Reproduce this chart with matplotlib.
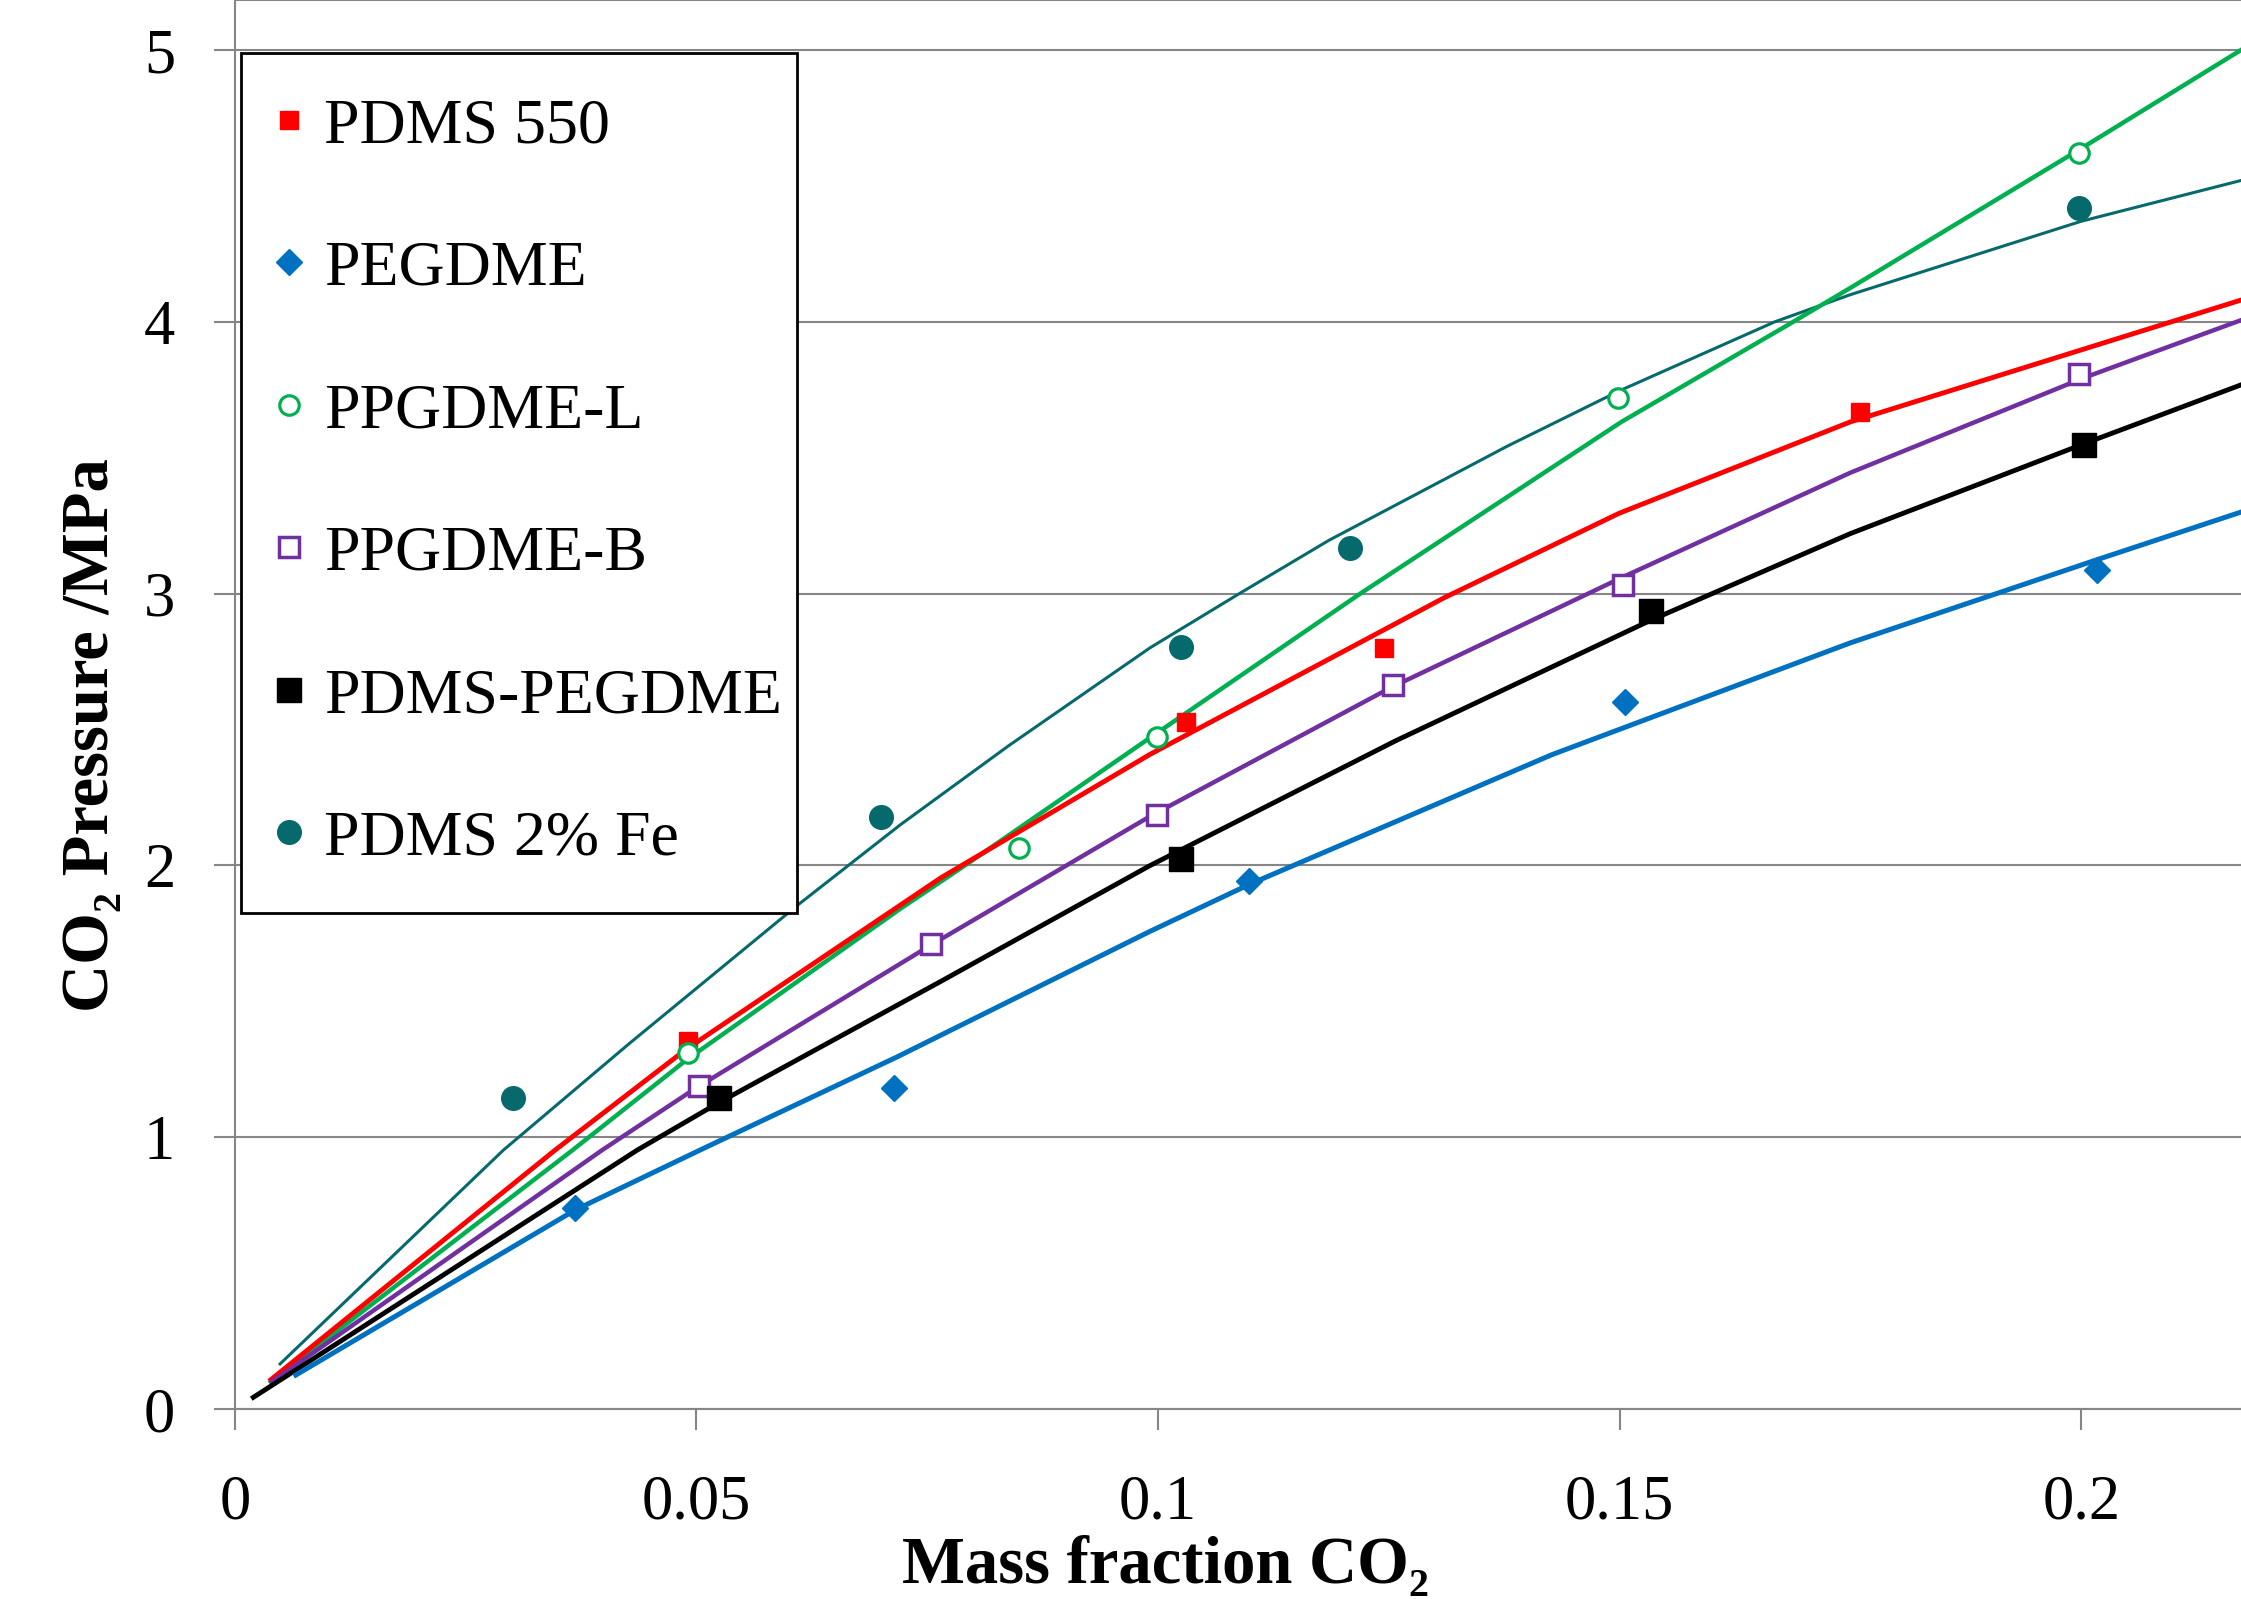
import matplotlib
import matplotlib.pyplot as plt

matplotlib.use("Agg")

plt.rcParams["font.family"] = ["Liberation Serif", "DejaVu Serif"]

# measured points (mass fraction CO2, pressure MPa)
pdms550_x = [0.0491, 0.1030, 0.1245, 0.1760]
pdms550_y = [1.355, 2.526, 2.800, 3.670]
pegdme_x = [0.0368, 0.0714, 0.1098, 0.1506, 0.2017]
pegdme_y = [0.740, 1.180, 1.943, 2.600, 3.088]
ppgdme_l_x = [0.0491, 0.0849, 0.0999, 0.1498, 0.1998]
ppgdme_l_y = [1.310, 2.064, 2.474, 3.720, 4.620]
ppgdme_b_x = [0.0503, 0.0754, 0.0999, 0.1254, 0.1504, 0.1998]
ppgdme_b_y = [1.187, 1.712, 2.185, 2.663, 3.030, 3.808]
pdms_peg_x = [0.0524, 0.1025, 0.1534, 0.2003]
pdms_peg_y = [1.145, 2.022, 2.936, 3.545]
pdms_fe_x = [0.0301, 0.0700, 0.1025, 0.1208, 0.1998]
pdms_fe_y = [1.145, 2.180, 2.805, 3.167, 4.420]

# fitted model curves
fit_pdms550_x = [0.0039, 0.0347, 0.0489, 0.0765, 0.0991, 0.1310, 0.1499, 0.1750, 0.2173]
fit_pdms550_y = [0.108, 0.953, 1.324, 1.955, 2.408, 2.985, 3.295, 3.632, 4.080]
fit_pegdme_x = [0.0066, 0.0369, 0.0504, 0.0717, 0.0991, 0.1100, 0.1427, 0.1750, 0.2019, 0.2173]
fit_pegdme_y = [0.125, 0.733, 0.953, 1.295, 1.757, 1.932, 2.408, 2.819, 3.127, 3.300]
fit_ppgdme_l_x = [0.0039, 0.0366, 0.0489, 0.0721, 0.0793, 0.0991, 0.1219, 0.1502, 0.1683, 0.1750, 0.2000, 0.2173]
fit_ppgdme_l_y = [0.100, 0.953, 1.284, 1.841, 2.005, 2.469, 3.000, 3.632, 3.990, 4.125, 4.638, 5.000]
fit_ppgdme_b_x = [0.0040, 0.0398, 0.0499, 0.0753, 0.0991, 0.1252, 0.1506, 0.1750, 0.2002, 0.2173]
fit_ppgdme_b_y = [0.100, 0.953, 1.180, 1.705, 2.180, 2.654, 3.065, 3.445, 3.793, 4.006]
fit_pdms_peg_x = [0.0020, 0.0436, 0.0523, 0.0765, 0.0991, 0.1257, 0.1533, 0.1750, 0.2005, 0.2173]
fit_pdms_peg_y = [0.043, 0.953, 1.125, 1.574, 1.999, 2.458, 2.901, 3.221, 3.554, 3.768]
fit_pdms_fe_x = [0.0049, 0.0291, 0.0427, 0.0610, 0.0721, 0.0838, 0.0991, 0.1088, 0.1185,
                 0.1378, 0.1499, 0.1668, 0.1750, 0.2000, 0.2173]
fit_pdms_fe_y = [0.166, 0.953, 1.344, 1.855, 2.150, 2.440, 2.800, 3.000, 3.196,
                 3.542, 3.745, 4.000, 4.100, 4.370, 4.520]

x_ticks = [0, 0.05, 0.1, 0.15, 0.2]
x_tick_labels = ["0", "0.05", "0.1", "0.15", "0.2"]
y_ticks = [0, 1, 2, 3, 4, 5]
y_tick_labels = ["0", "1", "2", "3", "4", "5"]

red = "#FF0000"
blue = "#0070C0"
green = "#00B050"
purple = "#7030A0"
teal = "#066A6C"
grid_gray = "#868686"

fig = plt.figure(figsize=(22.41, 15.99), dpi=100)
ax = fig.add_axes([0.1048, 0.1188, 0.8952, 0.8812])

# fit lines
ax.plot(fit_pdms_fe_x, fit_pdms_fe_y, color=teal, linewidth=2.2, zorder=3)
ax.plot(fit_ppgdme_l_x, fit_ppgdme_l_y, color=green, linewidth=3.2, zorder=3)
ax.plot(fit_pdms550_x, fit_pdms550_y, color=red, linewidth=3.5, zorder=3)
ax.plot(fit_ppgdme_b_x, fit_ppgdme_b_y, color=purple, linewidth=3.2, zorder=3)
ax.plot(fit_pdms_peg_x, fit_pdms_peg_y, color="black", linewidth=3.5, zorder=3)
ax.plot(fit_pegdme_x, fit_pegdme_y, color=blue, linewidth=3.6, zorder=3)

# measured points
ax.plot(pdms550_x, pdms550_y, "s", color=red, markersize=13, label="PDMS 550", zorder=4)
ax.plot(pegdme_x, pegdme_y, "D", color=blue, markersize=13, label="PEGDME", zorder=4)
ax.plot(ppgdme_l_x, ppgdme_l_y, "o", markerfacecolor="white", markeredgecolor=green,
        markersize=14, markeredgewidth=2.3, label="PPGDME-L", zorder=4)
ax.plot(ppgdme_b_x, ppgdme_b_y, "s", markerfacecolor="white", markeredgecolor=purple,
        markersize=15, markeredgewidth=2.5, label="PPGDME-B", zorder=4)
ax.plot(pdms_peg_x, pdms_peg_y, "s", color="black", markersize=17, label="PDMS-PEGDME", zorder=4)
ax.plot(pdms_fe_x, pdms_fe_y, "o", color=teal, markersize=17, label="PDMS 2% Fe", zorder=4)

ax.set_xlim(0, 0.2173)
ax.set_ylim(0, 5.184)
ax.set_xticks(x_ticks)
ax.set_xticklabels(x_tick_labels)
ax.set_yticks(y_ticks)
ax.set_yticklabels(y_tick_labels)
ax.tick_params(axis="both", direction="out", length=15, width=1.5, color=grid_gray,
               labelsize=45)
ax.tick_params(axis="x", pad=32)
ax.tick_params(axis="y", pad=28)

ax.grid(axis="y", color=grid_gray, linewidth=1.5)
ax.set_axisbelow(True)
for side in ["left", "bottom", "top"]:
    ax.spines[side].set_color(grid_gray)
    ax.spines[side].set_linewidth(1.5)
ax.spines["right"].set_visible(False)

leg = ax.legend(loc="upper left", bbox_to_anchor=(0.0031, 0.3584, 0.2771, 0.604),
                mode="expand", borderaxespad=0,
                fontsize=46, frameon=True, fancybox=False, framealpha=1,
                borderpad=0.7, handlelength=0.1, handletextpad=0.5, labelspacing=1.31,
                numpoints=1)
leg.get_frame().set_edgecolor("black")
leg.get_frame().set_linewidth(2.0)

fig.text(0.520, 0.010, "Mass fraction CO₂", ha="center", va="baseline",
         fontsize=48, fontweight="bold")
fig.text(0.041, 0.54, "CO₂ Pressure /MPa", ha="center", va="center", rotation=90,
         fontsize=48, fontweight="bold")

fig.savefig("out.png", dpi=100)
plt.close(fig)
